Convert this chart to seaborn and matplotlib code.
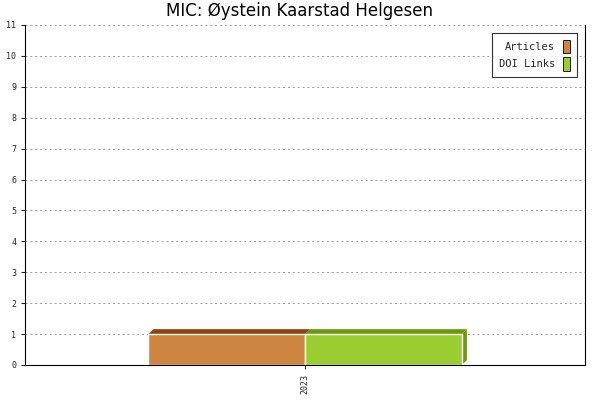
import matplotlib
matplotlib.use("Agg")
import matplotlib.pyplot as plt
import matplotlib.patches as mpatches
import pandas as pd
import seaborn as sns

years = ["2023"]
series_names = ["Articles", "DOI Links"]
articles = [1]
doi_links = [1]
face_colors = ["#CD853F", "#9ACD32"]
dark_colors = ["#8B4513", "#6B9A10"]

df = pd.DataFrame({
    "Year": years * 2,
    "Series": [series_names[0]] * len(years) + [series_names[1]] * len(years),
    "Value": articles + doi_links,
})

sns.set_style("white")
fig = plt.figure(figsize=(6, 4), dpi=100)
ax = fig.add_axes([0.042, 0.0875, 0.933, 0.85])
sns.barplot(data=df, x="Year", y="Value", hue="Series", palette=face_colors,
            width=0.56, ax=ax, legend=False, saturation=1)

# fake 3D top and side faces
dx, dy = 0.009, 0.16
for patch, dark in zip(ax.patches, dark_colors):
    x0, w, h = patch.get_x(), patch.get_width(), patch.get_height()
    top = mpatches.Polygon([(x0, h), (x0 + dx, h + dy), (x0 + w + dx, h + dy), (x0 + w, h)],
                           closed=True, color=dark, lw=0, zorder=1.5)
    side = mpatches.Polygon([(x0 + w, 0), (x0 + w + dx, dy), (x0 + w + dx, h + dy), (x0 + w, h)],
                            closed=True, color=dark, lw=0, zorder=1.5)
    ax.add_patch(top)
    ax.add_patch(side)
for patch in ax.patches[:2]:
    patch.set_zorder(2)

ax.set_xlim(-0.5, 0.5)
ax.set_ylim(0, 11)
ax.set_yticks(range(0, 12))
ax.tick_params(axis="y", labelsize=6, length=3, direction="out", left=True)
ax.tick_params(axis="x", labelsize=6, rotation=90, length=3, bottom=True)
for lbl in ax.get_xticklabels() + ax.get_yticklabels():
    lbl.set_family("monospace")
ax.yaxis.grid(True, linestyle=(0, (2, 3)), color="#999999", lw=0.7)
ax.set_axisbelow(True)
ax.set_xlabel("")
ax.set_ylabel("")
for s in ax.spines.values():
    s.set_color("black")
    s.set_linewidth(0.8)
ax.spines["top"].set_visible(False)

handles = [mpatches.Patch(facecolor=c, edgecolor="black", lw=0.6) for c in face_colors]
leg = ax.legend(handles, series_names, loc="upper right", markerfirst=False,
                prop={"family": "monospace", "size": 7.5}, fancybox=False,
                edgecolor="black", handlelength=0.7, handleheight=1.6,
                borderaxespad=0.8, borderpad=0.6, labelspacing=0.4)
leg.get_frame().set_linewidth(0.8)

fig.suptitle("MIC: Øystein Kaarstad Helgesen", y=0.995, fontsize=12, color="black")
fig.savefig("out.png", dpi=100)
